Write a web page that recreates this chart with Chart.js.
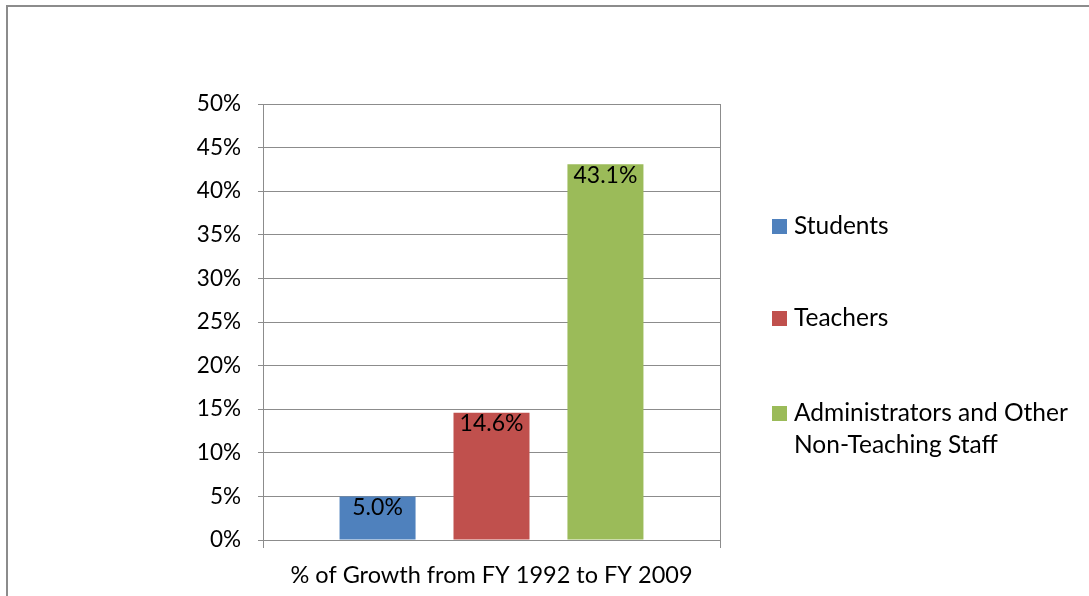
<!DOCTYPE html>
<html>
<head>
<meta charset="utf-8">
<script src="https://cdn.jsdelivr.net/npm/chart.js@4.4.1/dist/chart.umd.min.js"></script>
<style>
  html, body { margin: 0; padding: 0; background: #fff; }
  #wrap { position: relative; width: 1089px; height: 596px; }
</style>
</head>
<body>
<div id="wrap"><canvas id="c" width="1089" height="596"></canvas></div>
<script>
const categories = ['% of Growth from FY 1992 to FY 2009'];
const seriesNames = ['Students', 'Teachers', 'Administrators and Other Non-Teaching Staff'];
const legendLines = [['Students'], ['Teachers'], ['Administrators and Other', 'Non-Teaching Staff']];
const studentsValues = [5.0];
const teachersValues = [14.6];
const adminValues = [43.1];
const seriesColors = ['#4F81BD', '#C0504D', '#9BBB59'];
const yTicks = [0, 5, 10, 15, 20, 25, 30, 35, 40, 45, 50];

const FONT = 'Lato, "Open Sans", sans-serif';

const borderPlugin = {
  id: 'outerBorder',
  beforeDraw(chart) {
    const ctx = chart.ctx;
    ctx.save();
    ctx.strokeStyle = '#8c8c8c';
    ctx.lineWidth = 2;
    ctx.beginPath();
    ctx.moveTo(7, 700);
    ctx.lineTo(7, 6);
    ctx.lineTo(1200, 6);
    ctx.stroke();
    ctx.restore();
  }
};

const labelPlugin = {
  id: 'valueLabels',
  afterDatasetsDraw(chart) {
    const ctx = chart.ctx;
    ctx.save();
    ctx.font = '23px ' + FONT;
    ctx.fillStyle = '#000';
    ctx.textAlign = 'center';
    ctx.textBaseline = 'middle';
    chart.data.datasets.forEach((ds, i) => {
      const meta = chart.getDatasetMeta(i);
      meta.data.forEach((bar, j) => {
        const v = ds.data[j];
        ctx.fillText(v.toFixed(1) + '%', bar.x, bar.y + 11);
      });
    });
    ctx.restore();
  }
};

const legendPlugin = {
  id: 'sideLegend',
  afterDraw(chart) {
    const ctx = chart.ctx;
    ctx.save();
    ctx.font = '24.5px ' + FONT;
    ctx.textBaseline = 'middle';
    ctx.textAlign = 'left';
    const firstY = [226, 318, 413];
    chart.data.datasets.forEach((ds, i) => {
      const y = firstY[i];
      ctx.fillStyle = ds.backgroundColor;
      ctx.fillRect(772, y - 7, 15, 15);
      ctx.fillStyle = '#000';
      legendLines[i].forEach((line, k) => {
        ctx.fillText(line, 794, y + k * 32);
      });
    });
    ctx.restore();
  }
};

const valuesList = [studentsValues, teachersValues, adminValues];

new Chart(document.getElementById('c'), {
  type: 'bar',
  data: {
    labels: categories,
    datasets: seriesNames.map((name, i) => ({
      label: name,
      data: valuesList[i],
      backgroundColor: seriesColors[i],
      borderWidth: 0,
      categoryPercentage: 0.748,
      barPercentage: 0.667
    }))
  },
  options: {
    responsive: false,
    animation: false,
    devicePixelRatio: 1,
    layout: { padding: { left: 0, right: 369, top: 104, bottom: 6 } },
    plugins: {
      legend: { display: false },
      tooltip: { enabled: false }
    },
    scales: {
      x: {
        grid: { color: '#8c8c8c', lineWidth: 1, tickLength: 8, offset: true, drawOnChartArea: true },
        border: { color: '#8c8c8c', width: 1 },
        ticks: { display: false },
        title: {
          display: true,
          text: categories[0],
          font: { family: FONT, size: 23.5 },
          color: '#000',
          padding: { top: 0, bottom: 0 }
        },
        afterFit(s) { s.height = 50; }
      },
      y: {
        min: 0,
        max: 50,
        afterBuildTicks(s) { s.ticks = yTicks.map(v => ({ value: v })); },
        grid: { color: '#8c8c8c', lineWidth: 1, tickLength: 5 },
        border: { color: '#8c8c8c', width: 1 },
        ticks: {
          color: '#000',
          font: { family: FONT, size: 22.5 },
          padding: 17,
          callback: v => v + '%'
        },
        afterFit(s) { s.width = 263; }
      }
    }
  },
  plugins: [borderPlugin, labelPlugin, legendPlugin]
});
</script>
</body>
</html>
